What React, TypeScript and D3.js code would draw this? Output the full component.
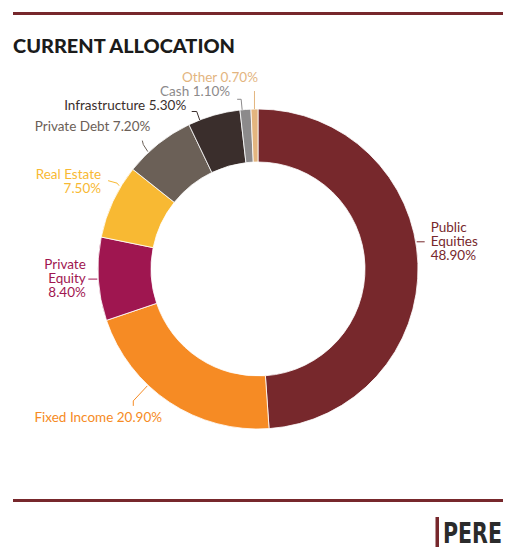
import * as d3 from "d3";
import React from "react";

const categories = [
  "Public Equities",
  "Fixed Income",
  "Private Equity",
  "Real Estate",
  "Private Debt",
  "Infrastructure",
  "Cash",
  "Other",
];
const shares = [48.9, 20.9, 8.4, 7.5, 7.2, 5.3, 1.1, 0.7];
const labelLines = [
  ["Public", "Equities", "48.90%"],
  ["Fixed Income 20.90%"],
  ["Private", "Equity", "8.40%"],
  ["Real Estate", "7.50%"],
  ["Private Debt 7.20%"],
  ["Infrastructure 5.30%"],
  ["Cash 1.10%"],
  ["Other 0.70%"],
];
const title = "CURRENT ALLOCATION";

const colors = ["#77282c", "#f68b24", "#9f1650", "#f8b933", "#6b6057", "#3a2e2c", "#8c8a8b", "#e3b57f"];

// leader layout: t = where on the slice the line starts, pts = elbow offsets,
// text offset from the last point
const leaders = [
  { t: 0.456, r: 161, pts: [[0, 0], [8, 0]], dx: 6, dy: 0, anchor: "start", lead: [-10, 4, 18] },
  { t: 0.63, r: 161, pts: [[0, 0], [-14, 15], [-14, 20]], dx: -35, dy: 16, anchor: "middle", lead: [0] },
  { t: 0.5, r: 161, pts: [[0, 0], [-9, 0]], dx: -2.5, dy: 0, anchor: "end", lead: [-10, 4, 18] },
  { t: 0.72, r: 162, pts: [[0, 0], [-2, -2.5], [-11, -5]], dx: -7, dy: 0, anchor: "end", lead: [-2, 12] },
  { t: 0.32, r: 161, pts: [[0, 0], [-4.5, -7], [-5.5, -11]], dx: 8, dy: -9.5, anchor: "end", lead: [0] },
  { t: 0.22, r: 160, pts: [[0, 0], [-3, -8.5], [-8, -8.5]], dx: -5.5, dy: -1.5, anchor: "end", lead: [0] },
  { t: 0.2, r: 160, pts: [[0, 0], [-1, -10.5], [-5, -10.5]], dx: -7, dy: -3, anchor: "end", lead: [0] },
  { t: 0.5, r: 160, pts: [[0, 0], [0, -18]], dx: 3.5, dy: -9, anchor: "end", lead: [0] },
];

const W = 513;
const H = 554;
const cx = 258;
const cy = 269;
const outerR = 160;
const innerR = 107;
const font = "Lato, 'Open Sans', sans-serif";

export default function App() {
  const data = categories.map((c, i) => ({ name: c, value: shares[i], i }));
  const pie = d3
    .pie<{ name: string; value: number; i: number }>()
    .sort(null)
    .value((d) => d.value)
    .startAngle(0)
    .endAngle(2 * Math.PI);
  const arcs = pie(data);
  const arc = d3.arc<any>().innerRadius(innerR).outerRadius(outerR);
  const line = d3.line();

  return (
    <svg
      width={W}
      height={H}
      style={{ position: "absolute", left: 0, top: 0, background: "#fff" }}
      fontFamily={font}
    >
      <line x1={13} x2={503} y1={13.5} y2={13.5} stroke="#77282c" strokeWidth={3} />
      <text x={13} y={53} fontSize={19.5} fontWeight={900} fill="#1b1b1b" textLength={222} lengthAdjust="spacingAndGlyphs">
        {title}
      </text>

      <g transform={`translate(${cx},${cy})`}>
        {arcs.map((a) => (
          <path key={a.data.name} d={arc(a)!} fill={colors[a.data.i]} stroke="#fff" strokeWidth={0.8} />
        ))}
      </g>

      {arcs.map((a) => {
        const L = leaders[a.data.i];
        const ang = a.startAngle + L.t * (a.endAngle - a.startAngle);
        const sx = cx + L.r * Math.sin(ang);
        const sy = cy - L.r * Math.cos(ang);
        const pts = L.pts.map(([dx, dy]) => [sx + dx, sy + dy] as [number, number]);
        const [ex, ey] = pts[pts.length - 1];
        const c = colors[a.data.i];
        return (
          <g key={a.data.name}>
            <path d={line(pts)!} fill="none" stroke={c} strokeWidth={1} />
            {labelLines[a.data.i].map((s, k) => (
              <text
                key={k}
                x={ex + L.dx}
                y={ey + L.dy + L.lead[k]}
                textAnchor={L.anchor as any}
                fontSize={13.5}
                fill={c}
              >
                {s}
              </text>
            ))}
          </g>
        );
      })}

      <line x1={13} x2={503} y1={500.5} y2={500.5} stroke="#77282c" strokeWidth={3} />
      <rect x={435.5} y={517} width={3.5} height={30} fill="#77282c" />
      <text
        x={443}
        y={543}
        fontSize={28}
        fontWeight={700}
        fill="#2b2b2b"
        fontFamily="'Liberation Sans Narrow', 'DejaVu Sans Condensed', sans-serif"
        textLength={59}
        lengthAdjust="spacingAndGlyphs"
      >
        PERE
      </text>
    </svg>
  );
}
